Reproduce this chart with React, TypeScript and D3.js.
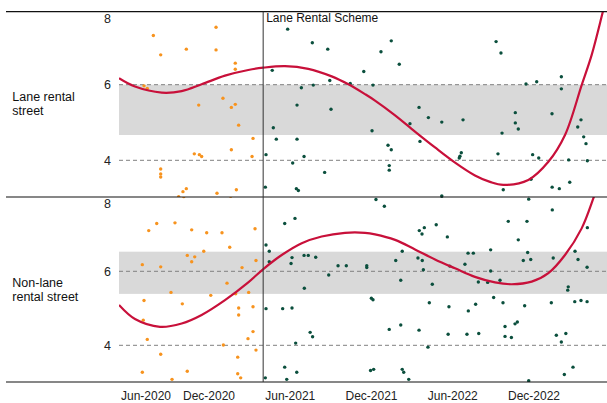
import React from "react";
import * as d3 from "d3";

// months since Jan-2020 (0 = Jan-2020), values on rating scale
const xTickMonths = [5, 11, 17, 23, 29, 35];
const xTickLabels = ["Jun-2020", "Dec-2020", "Jun-2021", "Dec-2021", "Jun-2022", "Dec-2022"];
const yTicks = [8, 6, 4];
const schemeStart = 15; // Apr-2021
const schemeLabel = "Lane Rental Scheme";
const panelNames = [["Lane rental", "street"], ["Non-lane", "rental street"]];
const laneBand = [4.67, 6.0];
const nonLaneBand = [5.39, 6.53];

const laneBefore: [number, number][] = [
  [5.7, 7.3], [6.4, 6.79], [8.84, 6.94], [11.52, 7.52], [11.52, 6.92], [12.94, 6.57], [12.94, 6.41],
  [4.81, 5.97], [5.12, 5.9], [10.02, 5.46], [12.03, 5.64], [12.65, 5.4], [12.94, 5.48], [13.19, 4.93],
  [14.25, 4.58], [9.6, 4.17], [10.08, 4.15], [10.3, 4.1], [12.65, 4.28], [14.18, 4.1], [6.4, 3.77],
  [6.4, 3.64], [6.4, 3.56], [8.52, 3.17], [8.84, 3.25], [11.59, 3.13], [13.02, 3.22], [8.11, 3.04],
];

const laneAfter: [number, number][] = [
  [16.81, 7.47], [15.67, 6.38], [17.5, 5.46], [15.75, 4.86], [15.97, 4.56], [17.5, 4.56], [15.21, 4.15],
  [17.18, 3.93], [15.16, 3.29], [17.45, 3.25], [17.6, 3.2], [17.82, 5.92], [18.63, 7.11], [19.77, 6.94],
  [24.46, 7.16], [23.7, 6.87], [25.05, 6.54], [22.43, 6.35], [19.92, 6.11], [18.7, 5.99], [21.43, 6.03],
  [23.11, 5.99], [20.01, 5.35], [23.04, 4.78], [26.51, 5.4], [27.2, 5.13], [28.19, 5.01], [29.76, 5.07],
  [25.84, 4.97], [26.58, 4.5], [24.22, 4.4], [24.46, 4.28], [18.02, 4.1], [19.54, 3.68], [24.31, 3.86],
  [24.31, 3.74], [29.63, 4.2], [29.53, 4.11], [29.48, 4.06], [28.19, 3.06], [32.2, 7.14], [32.56, 6.84],
  [34.41, 6.02], [35.2, 6.08], [37.02, 6.21], [37.02, 5.89], [33.62, 5.26], [33.62, 4.99], [33.84, 4.83],
  [32.64, 4.72], [36.33, 5.23], [38.47, 5.07], [38.23, 4.88], [38.67, 4.62], [38.84, 4.44], [32.34, 4.17],
  [34.9, 4.15], [35.35, 4.06], [37.56, 4.01], [38.94, 3.99], [34.78, 3.5], [32.73, 3.22], [36.34, 3.29],
  [36.87, 3.25], [37.64, 3.42], [34.61, 2.99], [23.33, 2.98],
];

const nonLaneBefore: [number, number][] = [
  [5.26, 7.1], [6.02, 7.29], [7.76, 7.31], [9.35, 7.12], [10.78, 7.04], [11.96, 7.04], [14.4, 7.15],
  [12.53, 6.65], [10.5, 6.54], [8.93, 6.43], [9.64, 6.39], [9.35, 6.26], [4.65, 6.18], [6.4, 6.12],
  [13.44, 6.1], [14.47, 6.29], [12.33, 5.68], [7.38, 5.43], [11.13, 5.35], [12.97, 5.39], [13.93, 5.43],
  [4.81, 5.21], [8.46, 5.12], [13.19, 5.01], [14.25, 5.04], [13.19, 4.82], [4.74, 4.68], [14.25, 4.37],
  [13.88, 4.18], [5.12, 4.16], [12.06, 4.01], [14.47, 3.87], [6.4, 3.76], [13.12, 3.68], [4.65, 3.27],
  [8.93, 3.3], [13.12, 3.23], [13.34, 3.12], [7.48, 3.08], [8.6, 8.02], [12.6, 8.03],
];

const nonLaneAfter: [number, number][] = [
  [16.59, 7.29], [17.35, 7.43], [15.21, 6.71], [15.45, 6.54], [15.45, 6.26], [17.13, 6.37], [17.06, 6.21],
  [15.21, 4.99], [16.44, 4.99], [17.13, 5.01], [17.4, 4.06], [16.59, 3.41], [17.48, 3.27], [15.16, 3.12],
  [16.74, 3.08], [23.33, 7.94], [23.95, 7.76], [34.61, 7.95], [36.35, 7.66], [33.1, 7.35], [34.48, 7.35],
  [27.78, 7.26], [26.53, 7.1], [26.73, 7.01], [26.9, 7.18], [28.6, 6.93], [38.94, 7.18], [33.84, 6.85],
  [25.27, 6.54], [18.02, 6.43], [18.33, 6.43], [18.88, 6.38], [24.79, 6.29], [26.43, 6.36], [26.75, 6.29],
  [26.83, 6.04], [30.13, 6.49], [30.52, 6.49], [31.8, 6.58], [34.53, 6.51], [34.21, 6.29], [34.76, 6.32],
  [36.42, 6.36], [38.03, 6.54], [38.25, 6.32], [38.92, 6.11], [20.53, 6.15], [21.14, 6.15], [22.65, 6.15],
  [22.65, 6.1], [28.78, 6.14], [29.9, 6.19], [31.8, 6.01], [19.84, 5.9], [25.16, 5.76], [27.49, 5.65],
  [30.89, 5.71], [31.58, 5.7], [32.49, 5.76], [18.04, 5.54], [37.53, 5.58], [37.49, 5.49], [22.99, 5.27],
  [23.11, 5.23], [27.27, 5.15], [28.72, 5.04], [30.15, 4.93], [30.69, 5.11], [32.02, 5.29], [32.71, 5.15],
  [34.31, 5.07], [36.28, 5.15], [38.01, 5.18], [38.47, 5.21], [38.92, 5.18], [24.31, 4.43], [25.16, 4.55],
  [26.51, 4.41], [18.47, 4.35], [18.65, 4.23], [28.66, 4.3], [30.05, 4.3], [30.92, 4.32], [32.86, 4.51],
  [33.6, 4.58], [33.77, 4.63], [32.86, 4.24], [33.33, 4.21], [36.65, 4.27], [37.02, 4.09], [37.35, 4.32],
  [27.17, 3.95], [22.93, 3.32], [23.16, 3.35], [25.27, 3.35], [25.38, 3.27], [25.75, 3.08], [34.61, 3.04],
  [37.24, 3.21], [37.88, 3.41], [28.19, 8.03],
];

const laneTrend: [number, number][] = [
  [2.43, 6.17], [3.95, 5.95], [6.5, 5.79], [8.4, 5.83], [10.3, 6.01], [12.18, 6.24], [13.9, 6.39],
  [15.01, 6.45], [16.61, 6.49], [18.33, 6.42], [20.06, 6.22], [21.29, 6.01], [22.52, 5.75], [23.26, 5.58],
  [24.74, 5.19], [26.21, 4.76], [27.69, 4.34], [29.17, 3.94], [30.64, 3.6], [31.75, 3.43], [32.73, 3.35],
  [34.58, 3.48], [36.06, 3.96], [37.29, 4.67], [38.52, 5.99], [39.26, 6.79], [40.12, 7.98], [40.46, 8.45],
];

const nonLaneTrend: [number, number][] = [
  [2.43, 5.09], [3.95, 4.71], [6.33, 4.5], [8.4, 4.59], [10.3, 4.82], [12.18, 5.22], [13.9, 5.7],
  [15.01, 6.06], [16.37, 6.44], [17.85, 6.76], [19.32, 6.94], [21.04, 7.04], [22.52, 7.04], [23.26, 7.0],
  [24.74, 6.85], [26.21, 6.59], [27.69, 6.32], [29.17, 6.08], [30.64, 5.85], [32.12, 5.7], [33.35, 5.65],
  [34.83, 5.72], [36.06, 5.95], [37.29, 6.44], [38.52, 7.16], [39.38, 7.97], [39.87, 8.52],
];

const W = 607;
const H = 403;
const frameLeft = 6;
const plotLeft = 119;
const font = "Liberation Sans, Arial, sans-serif";
const ORANGE = "#f7931e";
const GREEN = "#0b4f3d";
const RED = "#c8103a";

const x = d3.scaleLinear().domain([5, 11, 35]).range([146, 209, 534]);

const panels = [
  {
    top: 11.7, bottom: 197, y: d3.scaleLinear().domain([3, 8]).range([198.1, 9.1]),
    band: laneBand, before: laneBefore, after: laneAfter, trend: laneTrend, name: panelNames[0],
    nameY: 101,
  },
  {
    top: 197, bottom: 382, y: d3.scaleLinear().domain([3, 8]).range([382.3, 197.3]),
    band: nonLaneBand, before: nonLaneBefore, after: nonLaneAfter, trend: nonLaneTrend, name: panelNames[1],
    nameY: 287,
  },
];

export default function App() {
  return (
    <svg width={W} height={H} style={{ position: "absolute", left: 0, top: 0, background: "#fff" }}
      fontFamily={font}>
      <defs>
        {panels.map((p, i) => (
          <clipPath id={`clip${i}`} key={i}>
            <rect x={plotLeft} y={p.top} width={W - plotLeft} height={p.bottom - p.top} />
          </clipPath>
        ))}
      </defs>
      {panels.map((p, i) => {
        const line = d3.line<[number, number]>()
          .x((d) => x(d[0]))
          .y((d) => p.y(d[1]))
          .curve(d3.curveCatmullRom.alpha(0.5));
        return (
          <g key={i}>
            <rect x={plotLeft} y={p.y(p.band[1])} width={W - plotLeft}
              height={p.y(p.band[0]) - p.y(p.band[1])} fill="#d9d9d9" />
            {yTicks.filter((t) => t < 8).map((t) => (
              <line key={t} x1={plotLeft} x2={W} y1={p.y(t)} y2={p.y(t)} stroke="#808080"
                strokeWidth={1} strokeDasharray="4,3" />
            ))}
            {yTicks.map((t) => (
              <text key={t} x={111} y={Math.max(p.y(t), p.top + 6.5) + 4.4} textAnchor="end"
                fontSize={12.5} fill="#222">{t}</text>
            ))}
            <text x={12.3} y={p.nameY} fontSize={12.5} fill="#111">
              <tspan x={12.3}>{p.name[0]}</tspan>
              <tspan x={12.3} dy={14}>{p.name[1]}</tspan>
            </text>
            <g clipPath={`url(#clip${i})`}>
              {p.before.map((d, j) => (
                <circle key={`b${j}`} cx={x(d[0])} cy={p.y(d[1])} r={1.7} fill={ORANGE} />
              ))}
              {p.after.map((d, j) => (
                <circle key={`a${j}`} cx={x(d[0])} cy={p.y(d[1])} r={1.7} fill={GREEN} />
              ))}
              <path d={line(p.trend) || ""} fill="none" stroke={RED} strokeWidth={2.2} />
            </g>
          </g>
        );
      })}
      {[panels[0].top, panels[0].bottom, panels[1].bottom].map((yy, i) => (
        <line key={i} x1={frameLeft} x2={W} y1={yy} y2={yy} stroke="#111" strokeWidth={1.2} />
      ))}
      <line x1={x(schemeStart)} x2={x(schemeStart)} y1={panels[0].top} y2={panels[1].bottom}
        stroke="#333" strokeWidth={1} />
      <text x={x(schemeStart) + 3} y={21.5} fontSize={12} fill="#111">{schemeLabel}</text>
      {xTickMonths.map((m, i) => (
        <text key={m} x={x(m)} y={399.5} textAnchor="middle" fontSize={12} fill="#222">
          {xTickLabels[i]}
        </text>
      ))}
    </svg>
  );
}
